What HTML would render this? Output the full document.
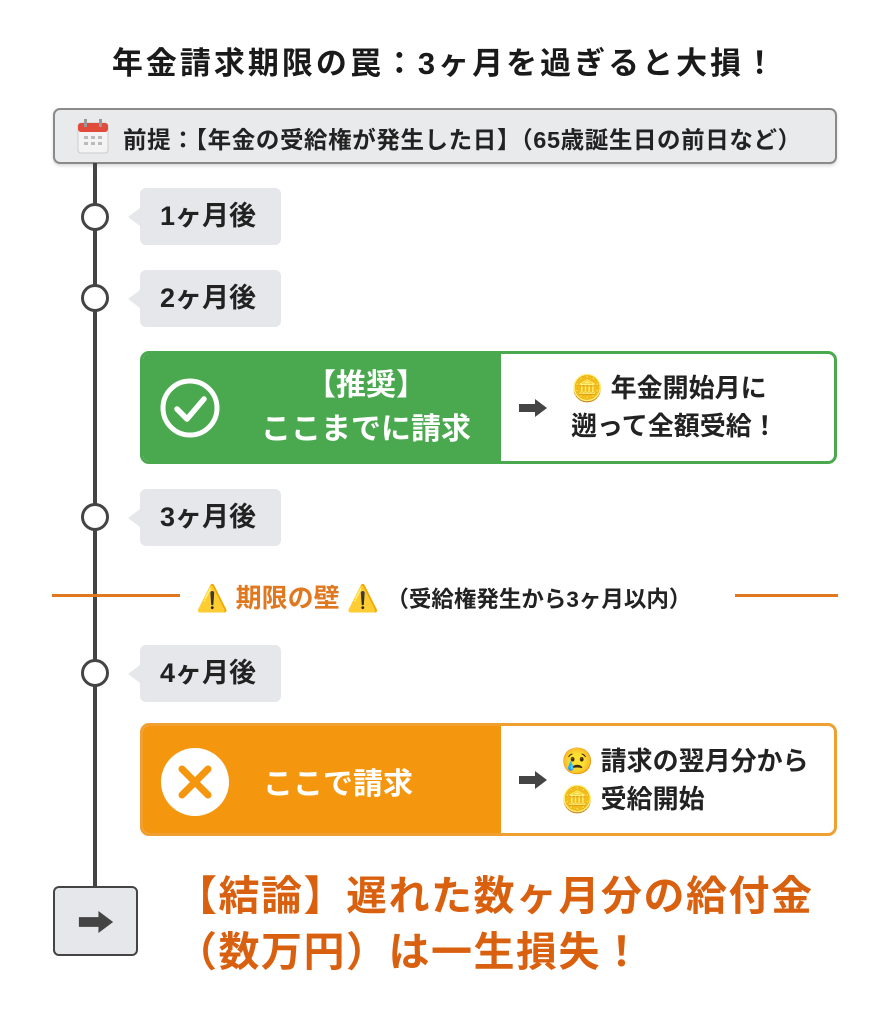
<!DOCTYPE html>
<html><head><meta charset="utf-8"><style>
*{margin:0;padding:0;box-sizing:border-box}
body{width:890px;height:1024px;background:#fff;position:relative;overflow:hidden;font-family:"Liberation Sans","Noto Sans CJK JP",sans-serif;font-weight:bold;color:#222}
.a{position:absolute}
.title{left:0;width:890px;top:38px;text-align:center;font-size:31px;letter-spacing:3px;color:#1a1a1a}
.hdr{left:53px;top:108px;width:784px;height:56px;background:#e9eaec;border:2px solid #8a8a8a;border-radius:7px;box-shadow:0 2px 3px rgba(0,0,0,.15)}
.hdr span{position:absolute;left:68px;top:11px;font-size:23.5px;letter-spacing:.6px;white-space:nowrap}
.line{left:93px;top:163px;width:4px;height:725px;background:#444}
.dot{width:28px;height:28px;border:3.5px solid #444;border-radius:50%;background:#fff;left:81px}
.lab{left:140px;width:141px;height:57px;background:#e6e7ea;border-radius:6px;font-size:27px;line-height:57px;padding-left:20px}
.lab:before{content:"";position:absolute;left:-12px;top:20px;border-right:12px solid #e6e7ea;border-top:9px solid transparent;border-bottom:9px solid transparent}
.box{left:140px;width:697px;height:113px;border-radius:9px;border:3px solid;overflow:hidden;background:#fff}
.box .l{position:absolute;left:0;top:0;width:358px;height:100%}
.box .r{position:absolute;left:418px;font-size:26px;line-height:38px;white-space:nowrap}
.arr{position:absolute;left:376px;top:45px;width:28px;height:18px}
</style></head><body>
<div class="a title">年金請求期限の罠：3ヶ月を過ぎると大損！</div>
<div class="a hdr">
<svg class="a" style="left:22px;top:8px" width="32" height="36" viewBox="0 0 32 36"><rect x="1" y="5" width="30" height="30" rx="3" fill="#f3f3f3" stroke="#ccc"/><rect x="1" y="5" width="30" height="9" rx="3" fill="#e04b3c"/><rect x="7" y="1" width="3" height="8" fill="#999"/><rect x="22" y="1" width="3" height="8" fill="#999"/><g fill="#bbb"><rect x="7" y="18" width="4" height="3"/><rect x="14" y="18" width="4" height="3"/><rect x="21" y="18" width="4" height="3"/><rect x="7" y="24" width="4" height="3"/><rect x="14" y="24" width="4" height="3"/><rect x="21" y="24" width="4" height="3"/></g></svg>
<span>前提：【年金の受給権が発生した日】（65歳誕生日の前日など）</span></div>
<div class="a line"></div>
<div class="a dot" style="top:203px"></div>
<div class="a dot" style="top:284px"></div>
<div class="a dot" style="top:503px"></div>
<div class="a dot" style="top:659px"></div>
<div class="a lab" style="top:188px">1ヶ月後</div>
<div class="a lab" style="top:270px">2ヶ月後</div>
<div class="a lab" style="top:489px">3ヶ月後</div>
<div class="a lab" style="top:645px">4ヶ月後</div>

<div class="a box" style="top:351px;border-color:#4aa84f">
<div class="l" style="background:#4aa84f"></div>
<svg class="a" style="left:16px;top:23px" width="62" height="62"><circle cx="31" cy="31" r="27" fill="none" stroke="#fff" stroke-width="5"/><path d="M18 32 L28 42 L45 22" fill="none" stroke="#fff" stroke-width="5.5" stroke-linecap="round" stroke-linejoin="round"/></svg>
<div class="a" style="left:88px;width:270px;top:10px;text-align:center;color:#fff;font-size:30px;line-height:44px">【推奨】<br>ここまでに請求</div>
<svg class="arr" viewBox="0 0 28 18"><path d="M0 5h16V0l12 9-12 9v-5H0z" fill="#444"/></svg>
<div class="r" style="top:15px;left:428px">🪙 年金開始月に<br>遡って全額受給！</div>
</div>

<div class="a" style="left:52px;top:594px;width:128px;height:3px;background:#e07820"></div>
<div class="a" style="left:735px;top:594px;width:103px;height:3px;background:#e07820"></div>
<div class="a" style="left:196px;top:578px;font-size:26px;color:#e07820;white-space:nowrap">⚠️ 期限の壁 ⚠️ <span style="color:#222;font-size:22.5px">（受給権発生から3ヶ月以内）</span></div>

<div class="a box" style="top:723px;border-color:#f0a030">
<div class="l" style="background:#f5960f"></div>
<svg class="a" style="left:17px;top:21px" width="70" height="70"><circle cx="35" cy="35" r="34" fill="#fff"/><path d="M22 22L48 48M48 22L22 48" stroke="#f5960f" stroke-width="7" stroke-linecap="round"/></svg>
<div class="a" style="left:120px;top:33px;color:#fff;font-size:30px">ここで請求</div>
<svg class="arr" viewBox="0 0 28 18"><path d="M0 5h16V0l12 9-12 9v-5H0z" fill="#444"/></svg>
<div class="r" style="top:16px;left:418px">😢 請求の翌月分から<br>🪙 受給開始</div>
</div>

<div class="a" style="left:53px;top:886px;width:85px;height:70px;background:#e6e7ea;border:2.5px solid #444;border-radius:6px"><svg style="position:absolute;left:22px;top:23px" width="38" height="22" viewBox="0 0 28 18"><path d="M0 5h16V0l12 9-12 9v-5H0z" fill="#444"/></svg></div>
<div class="a" style="left:176px;top:868px;color:#d9600f;font-size:41px;line-height:56px;letter-spacing:1.5px;white-space:nowrap">【結論】遅れた数ヶ月分の給付金<br>（数万円）は一生損失！</div>
</body></html>
